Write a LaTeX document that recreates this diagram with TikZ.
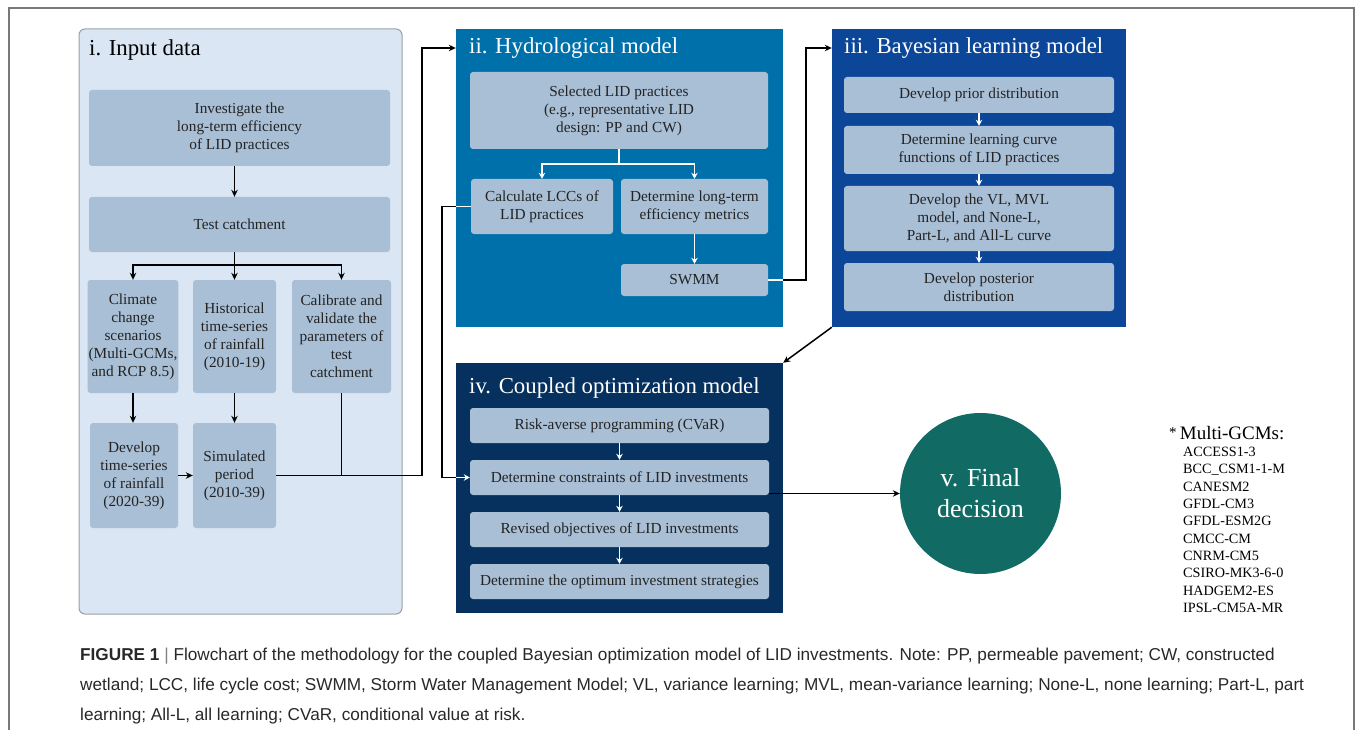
\documentclass[tikz,border=0pt]{standalone}
\usepackage{fontspec}
\setmainfont{Liberation Serif}
\newfontfamily\capfont{Liberation Sans}
\usepackage{tikz}
\usetikzlibrary{shapes}
\usetikzlibrary{arrows.meta,calc}
\definecolor{inputbg}{RGB}{218,230,243}
\definecolor{inputline}{RGB}{150,160,170}
\definecolor{boxfill}{RGB}{169,191,214}
\definecolor{hydroblue}{RGB}{0,112,170}
\definecolor{bayesblue}{RGB}{12,70,152}
\definecolor{coupnavy}{RGB}{6,48,94}
\definecolor{finalteal}{RGB}{17,107,100}
\definecolor{boxtext}{RGB}{35,35,35}
\definecolor{captext}{RGB}{40,40,40}
\definecolor{framegray}{RGB}{120,120,120}
\tikzstyle{stepbox}=[shape=rectangle,rounded corners=3pt,fill=boxfill,text=boxtext,align=center,inner sep=1pt,font=\fontsize{15.3}{18}\selectfont]
\tikzstyle{panelbox}=[shape=rectangle,inner sep=0pt]
\tikzstyle{paneltitle}=[anchor=west,inner sep=0pt,font=\fontsize{22.8}{26}\selectfont]
\tikzstyle{plainedge}=[line width=1.5pt,black]
\tikzstyle{darkedge}=[-{Stealth[length=7pt,width=6.5pt]},line width=1.5pt,black]
\tikzstyle{lightedge}=[-{Stealth[length=6pt,width=6.5pt]},line width=1.5pt,white]

\begin{document}
\begin{tikzpicture}[x=1pt,y=-1pt]
\useasboundingbox (0,0) rectangle (1357,730);
\draw[framegray,line width=1.2pt] (9,730) -- (9,8) -- (1354,8) -- (1354,730);

% i. Input data
\node[panelbox,rounded corners=6pt,fill=inputbg,draw=inputline,line width=1pt,minimum width=323,minimum height=585] (inp) at (240.5,321.5) {};
\node[paneltitle] (inpT) at (89,50) {i. Input data};
\node[stepbox,minimum width=301,minimum height=76] (inv) at (239.5,128) {Investigate the\\long-term efficiency\\of LID practices};
\node[stepbox,minimum width=301,minimum height=55] (test) at (239.5,224.5) {Test catchment};
\node[stepbox,minimum width=88,minimum height=113] (clim) at (133,336.5) {Climate\\change\\scenarios\\(Multi-GCMs,\\and RCP 8.5)};
\node[stepbox,minimum width=83,minimum height=113] (hist) at (234.5,336.5) {Historical\\time-series\\of rainfall\\(2010-19)};
\node[stepbox,minimum width=99,minimum height=113] (cali) at (341.5,336.5) {Calibrate and\\validate the\\parameters of\\test\\catchment};
\node[stepbox,minimum width=88,minimum height=105] (devt) at (134,475.5) {Develop\\time-series\\of rainfall\\(2020-39)};
\node[stepbox,minimum width=83,minimum height=105] (simp) at (234.5,475.5) {Simulated\\period\\(2010-39)};

% ii. Hydrological model
\node[panelbox,fill=hydroblue,minimum width=327,minimum height=298] (hyd) at (619.5,178) {};
\node[paneltitle,text=white] (hydT) at (469,48) {ii. Hydrological model};
\node[stepbox,minimum width=298,minimum height=77] (sel) at (619,110.5) {Selected LID practices\\(e.g., representative LID\\design: PP and CW)};
\node[stepbox,minimum width=142,minimum height=55] (lcc) at (542,206.5) {Calculate LCCs of\\LID practices};
\node[stepbox,minimum width=147,minimum height=55] (eff) at (694.5,206.5) {Determine long-term\\efficiency metrics};
\node[stepbox,minimum width=147,minimum height=32] (swmm) at (694.5,280) {SWMM};

% iii. Bayesian learning model
\node[panelbox,fill=bayesblue,minimum width=294,minimum height=298] (bay) at (979,178) {};
\node[paneltitle,text=white] (bayT) at (844,48) {iii. Bayesian learning model};
\node[stepbox,minimum width=270,minimum height=36] (prior) at (979,95) {Develop prior distribution};
\node[stepbox,minimum width=270,minimum height=48] (curve) at (979,150) {Determine learning curve\\functions of LID practices};
\node[stepbox,minimum width=270,minimum height=65] (vlm) at (979,218.5) {Develop the VL, MVL\\model, and None-L,\\Part-L, and All-L curve};
\node[stepbox,minimum width=270,minimum height=48] (post) at (979,287) {Develop posterior\\distribution};

% iv. Coupled optimization model
\node[panelbox,fill=coupnavy,minimum width=327,minimum height=250] (cop) at (619.5,488) {};
\node[paneltitle,text=white] (copT) at (469,388) {iv. Coupled optimization model};
\node[stepbox,minimum width=299,minimum height=35] (risk) at (619.5,425.5) {Risk-averse programming (CVaR)};
\node[stepbox,minimum width=299,minimum height=35] (cons) at (619.5,477.5) {Determine constraints of LID investments};
\node[stepbox,minimum width=299,minimum height=35] (revo) at (619.5,529.5) {Revised objectives of LID investments};
\node[stepbox,minimum width=299,minimum height=35] (opti) at (619.5,581.5) {Determine the optimum investment strategies};

% v. Final decision
\node[circle,fill=finalteal,minimum size=161,inner sep=0pt,text=white,align=center,font=\fontsize{26}{31}\selectfont] (final) at (980.5,493.5) {v. Final\\decision};

% GCM list
\node[anchor=west,inner sep=0pt,font=\fontsize{19}{22}\selectfont] (gcmhead) at (1169,433) {\raisebox{2pt}{\fontsize{15}{15}\selectfont*}\,Multi-GCMs:};
\node[anchor=north west,inner sep=0pt,align=left,font=\fontsize{14.2}{17.33}\selectfont] (gcmlist) at (1183,447) {ACCESS1-3\\BCC\_CSM1-1-M\\CANESM2\\GFDL-CM3\\GFDL-ESM2G\\CMCC-CM\\CNRM-CM5\\CSIRO-MK3-6-0\\HADGEM2-ES\\IPSL-CM5A-MR};

% caption
\node[anchor=base west,inner sep=0pt,align=left,text=captext,font=\capfont\fontsize{17.2}{30}\selectfont] (cap) at (80,720) {\textbf{FIGURE 1} {\color{gray}|} Flowchart of the methodology for the coupled Bayesian optimization model of LID investments. Note: PP, permeable pavement; CW, constructed\\wetland; LCC, life cycle cost; SWMM, Storm Water Management Model; VL, variance learning; MVL, mean-variance learning; None-L, none learning; Part-L, part\\learning; All-L, all learning; CVaR, conditional value at risk.};

% connectors in i
\coordinate (br1) at (234.5,265);
\draw[darkedge] (inv.south -| br1) -- (test.north -| br1);
\draw[plainedge] (test.south -| br1) -- (br1);
\draw[darkedge] (br1) -| (clim.north);
\draw[darkedge] (br1) -- (hist.north);
\draw[darkedge] (br1) -| (cali.north);
\draw[darkedge] (clim.south) -- (clim.south |- devt.north);
\draw[darkedge] (hist) -- (simp);
\draw[darkedge] (devt.east) -- (simp.west);
\coordinate (up1) at (422,475.5);
\draw[plainedge] (cali.south) -- (cali.south |- simp.east);
\draw[darkedge] (simp.east) -- (up1) |- (hyd.west |- hydT);

% connectors in ii
\coordinate (br2) at (619,164);
\draw[line width=1.5pt,white] (sel.south) -- (br2);
\draw[lightedge] (br2) -| (lcc.north);
\draw[lightedge] (br2) -| (eff.north);
\draw[lightedge] (eff) -- (swmm);
\draw[line width=1.5pt,white] (swmm.east) -- (hyd.east |- swmm.east);
\draw[darkedge] (hyd.east |- swmm.east) -- (806,280) |- (bay.west |- bayT);
\draw[line width=1.5pt,white] (lcc.west) -- (hyd.west |- lcc.west);
\draw[plainedge] (hyd.west |- lcc.west) -- (442,206.5) |- (cop.west |- cons.west);
\draw[lightedge] (cop.west |- cons.west) -- (cons.west);

% connectors in iii
\draw[lightedge] (prior) -- (curve);
\draw[lightedge] (curve) -- (vlm);
\draw[lightedge] (vlm) -- (post);
\draw[darkedge] (bay.south west) -- (cop.north east);

% connectors in iv
\draw[lightedge] (risk) -- (cons);
\draw[lightedge] (cons) -- (revo);
\draw[lightedge] (revo) -- (opti);
\draw[darkedge] (cons.east |- final.west) -- (final.west);
\end{tikzpicture}
\end{document}
